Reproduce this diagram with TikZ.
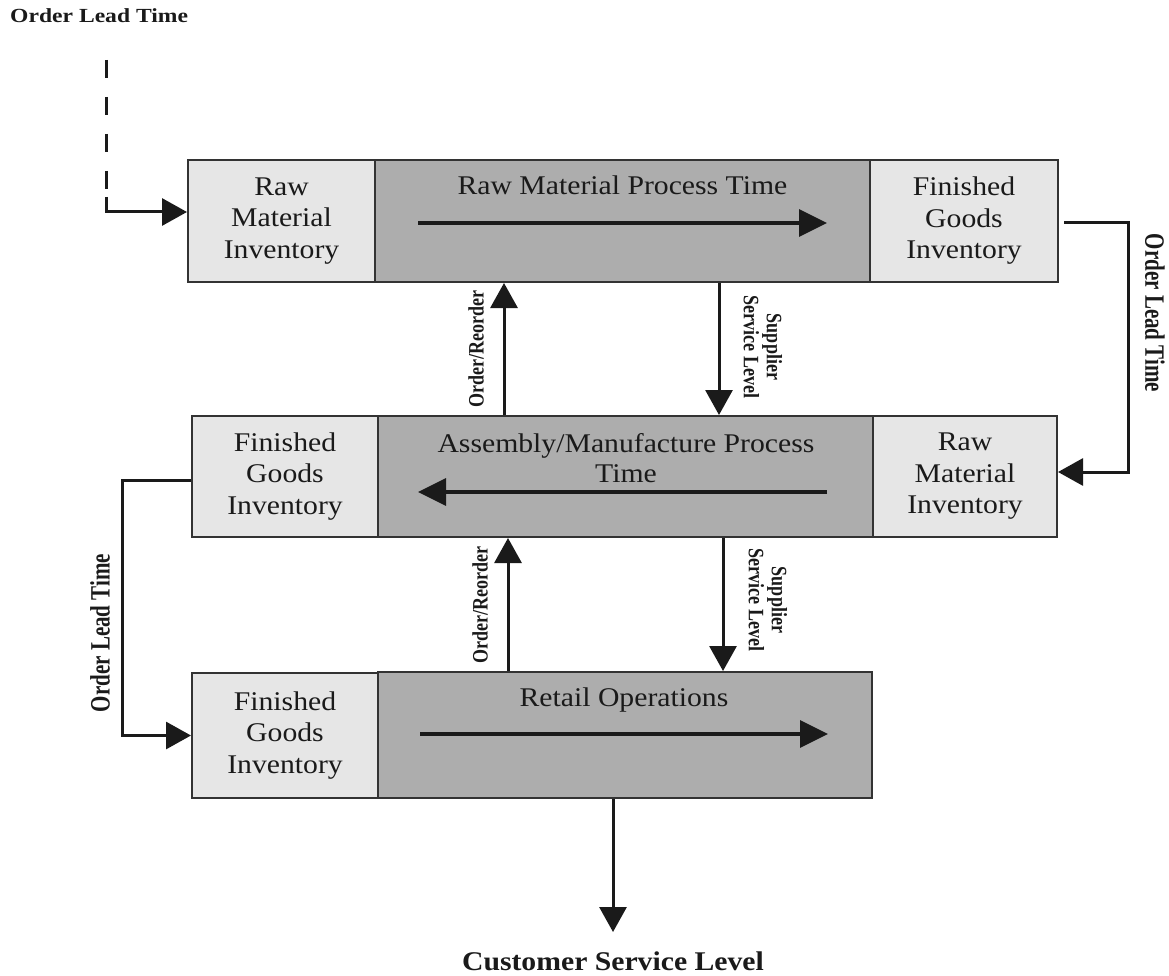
\documentclass[tikz,border=0pt]{standalone}
\usepackage{fontspec}
\setmainfont{Liberation Serif}[FakeStretch=1.1]
\newfontfamily\tlfont{Liberation Serif}[FakeStretch=1.18]
\newfontfamily\rotfont{Liberation Serif}[FakeStretch=0.75]
\newfontfamily\smfont{Liberation Serif}[FakeStretch=0.82]
\usetikzlibrary{arrows.meta,calc}
\definecolor{ink}{HTML}{1A1A1A}
\definecolor{lightfill}{HTML}{E6E6E6}
\definecolor{darkfill}{HTML}{ADADAD}
\definecolor{edgec}{HTML}{333333}
\begin{document}
\begin{tikzpicture}[x=1pt,y=-1pt,
  inv/.style={draw=edgec,line width=2pt,fill=lightfill,inner sep=0pt,align=center,text=ink,font=\fontsize{27}{31.5}\selectfont},
  proc/.style={draw=edgec,line width=2pt,fill=darkfill,inner sep=0pt},
  ttl/.style={text=ink,font=\fontsize{27}{30}\selectfont,inner sep=0pt,align=center},
  arr/.style={draw=ink,line width=3pt,-{Triangle[length=25pt,width=27pt]}},
  bigarr/.style={draw=ink,line width=3.2pt,-{Triangle[length=28pt,width=27pt]}},
  rotlbl/.style={text=ink,inner sep=0pt,font=\rotfont\bfseries\fontsize{28}{30}\selectfont},
  smlbl/.style={text=ink,inner sep=0pt,align=center,font=\smfont\bfseries\fontsize{22}{23}\selectfont}
]
\useasboundingbox (0,0) rectangle (1169,976);

% process boxes
\node[proc,minimum width=495pt,minimum height=122pt] (p1) at (622.5,221) {};
\node[proc,minimum width=495pt,minimum height=121pt] (p2) at (625.5,476.5) {};
\node[proc,minimum width=494pt,minimum height=126pt] (p3) at (625,735) {};

% inventory boxes
\node[inv,minimum width=187pt,minimum height=122pt] (a1) at (281.5,221) {Raw\\Material\\Inventory};
\node[inv,minimum width=188pt,minimum height=122pt] (b1) at (964,221) {Finished\\Goods\\Inventory};
\node[inv,minimum width=186pt,minimum height=121pt] (a2) at (285,476.5) {Finished\\Goods\\Inventory};
\node[inv,minimum width=184pt,minimum height=121pt] (b2) at (965,476.5) {Raw\\Material\\Inventory};
\node[inv,minimum width=186pt,minimum height=125pt] (a3) at (285,735.5) {Finished\\Goods\\Inventory};

% titles
\node[ttl,anchor=base] (t1) at (622.5,195) {Raw Material Process Time};
\node[ttl,anchor=base] (t2) at (626,482) {Assembly/Manufacture Process\\Time};
\node[ttl,anchor=base] (t3) at (624,706) {Retail Operations};

% inner flow arrows
\coordinate (r1s) at (418,223); \coordinate (r1e) at (827,223);
\coordinate (r2s) at (827,492); \coordinate (r2e) at (418,492);
\coordinate (r3s) at (420,734); \coordinate (r3e) at (828,734);
\draw[bigarr] (r1s) -- (r1e);
\draw[bigarr] (r2s) -- (r2e);
\draw[bigarr] (r3s) -- (r3e);

% vertical connectors
\coordinate (o1) at (504,0);
\coordinate (s1) at (719,0);
\coordinate (o2) at (508,0);
\coordinate (s2) at (723,0);
\coordinate (c0) at (613,0);
\coordinate (cend) at (613,932);
\draw[arr] (o1 |- p2.north) -- (o1 |- p1.south);
\draw[arr] (s1 |- p1.south) -- (s1 |- p2.north);
\draw[arr] (o2 |- p3.north) -- (o2 |- p2.south);
\draw[arr] (s2 |- p2.south) -- (s2 |- p3.north);
\draw[arr] (c0 |- p3.south) -- (cend);

% order lead time connectors
\coordinate (d0) at (106,60);
\coordinate (d1) at (106,197);
\draw[ink,line width=3pt,dash pattern=on 18pt off 19pt] (d0) -- (d1);
\draw[arr] (d1) |- ([yshift=9pt]a1.west);
\draw[arr] ([xshift=5pt,yshift=-2pt]b1.east) -- ++(64,0) |- ([yshift=4.5pt]b2.east);
\draw[arr] ([yshift=-3.5pt]a2.west) -- ++(-69,0) |- (a3.west);

% labels
\node[text=ink,inner sep=0pt,anchor=base west,font=\tlfont\bfseries\fontsize{20}{22}\selectfont] (olt0) at (10,23) {Order Lead Time};
\node[rotlbl,rotate=-90] (olt1) at (1155,313) {Order Lead Time};
\node[rotlbl,rotate=90] (olt2) at (100,633) {Order Lead Time};
\node[smlbl,rotate=90] (or1) at (476,349) {Order/Reorder};
\node[smlbl,rotate=90] (or2) at (480,605) {Order/Reorder};
\node[smlbl,rotate=-90] (ss1) at (763,347) {Supplier\\Service Level};
\node[smlbl,rotate=-90] (ss2) at (768,600) {Supplier\\Service Level};
\node[text=ink,inner sep=0pt,anchor=base,font=\bfseries\fontsize{27}{30}\selectfont] (csl) at (613,970) {Customer Service Level};
\end{tikzpicture}
\end{document}
